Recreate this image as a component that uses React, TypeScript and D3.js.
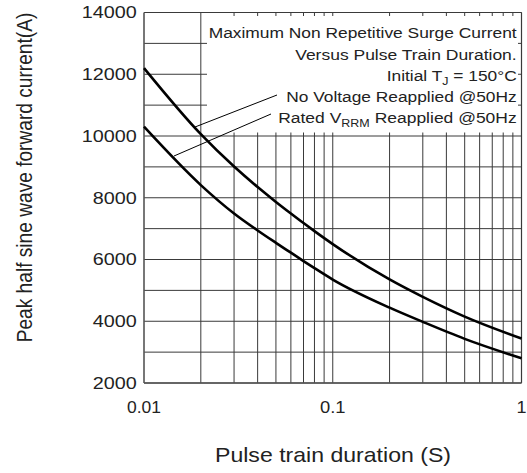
import React from "react";
import * as d3 from "d3";

const durations = [0.01, 0.02, 0.03, 0.04, 0.05, 0.06, 0.07, 0.08, 0.1, 0.2, 0.3, 0.5, 1];
const noVoltage = [12200, 10060, 9010, 8345, 7865, 7490, 7180, 6920, 6500, 5355, 4790, 4150, 3440];
const ratedVrrm = [10300, 8410, 7490, 6940, 6540, 6220, 5950, 5720, 5350, 4440, 3980, 3430, 2800];

const yTickLabels = [2000, 4000, 6000, 8000, 10000, 12000, 14000];
const yGrid = [2000, 3000, 4000, 5000, 6000, 7000, 8000, 9000, 10000, 11000, 12000, 13000, 14000];
const xTickLabels = [0.01, 0.1, 1];
const xGrid = [0.02, 0.03, 0.04, 0.05, 0.06, 0.07, 0.08, 0.09, 0.1, 0.2, 0.3, 0.4, 0.5, 0.6, 0.7, 0.8, 0.9];

const legendLines = [
  "Maximum Non Repetitive Surge Current",
  "Versus Pulse Train Duration.",
];

const W = 527;
const H = 473;
const L = 144;
const R = 521.5;
const T = 12.5;
const B = 383;
const FONT = "'Liberation Sans', Arial, Helvetica, sans-serif";

export default function App() {
  const x = d3.scaleLog().domain([0.01, 1]).range([L, R]);
  const y = d3.scaleLinear().domain([2000, 14000]).range([B, T]);

  const line = d3
    .line<number>()
    .x((_, i) => x(durations[i]))
    .y((d) => y(d))
    .curve(d3.curveMonotoneX);

  const textColor = "#222";
  const gridColor = "#3a3a3a";

  const boxX = 207;
  const boxY = 16;
  const boxR = 518;
  const boxB = 132.5;

  return (
    <svg
      width={W}
      height={H}
      style={{ position: "absolute", left: 0, top: 0, background: "#fff" }}
      fontFamily={FONT}
    >
      <rect x={0} y={0} width={W} height={H} fill="#fff" />
      {/* grid */}
      {yGrid.map((v) => (
        <line key={"hy" + v} x1={L} x2={R} y1={y(v)} y2={y(v)} stroke={gridColor} strokeWidth={1} />
      ))}
      {xGrid.map((v) => (
        <line key={"vx" + v} x1={x(v)} x2={x(v)} y1={T} y2={B} stroke={gridColor} strokeWidth={1} />
      ))}
      {/* frame */}
      <line x1={L} x2={R} y1={T} y2={T} stroke={gridColor} strokeWidth={1.2} />
      <line x1={R} x2={R} y1={T} y2={B} stroke={gridColor} strokeWidth={1.2} />
      <line x1={L} x2={L} y1={T} y2={B} stroke="#555" strokeWidth={1.6} />
      <line x1={L} x2={R} y1={B} y2={B} stroke="#555" strokeWidth={1.6} />

      {/* legend box covering grid */}
      <rect x={boxX} y={boxY} width={boxR - boxX} height={boxB - boxY} fill="#fff" />

      {/* curves */}
      <path d={line(noVoltage) || ""} fill="none" stroke="#000" strokeWidth={2.6} />
      <path d={line(ratedVrrm) || ""} fill="none" stroke="#000" strokeWidth={2.6} />

      {/* leader lines */}
      <line x1={277} y1={95} x2={195} y2={127} stroke="#000" strokeWidth={1} />
      <line x1={271} y1={114} x2={174} y2={156} stroke="#000" strokeWidth={1} />

      {/* legend text */}
      <g fill={textColor} fontSize={15.4} textAnchor="end">
        <text x={516.7} y={38} textLength={308} lengthAdjust="spacingAndGlyphs">
          {legendLines[0]}
        </text>
        <text x={516.7} y={59.5} textLength={221.5} lengthAdjust="spacingAndGlyphs">
          {legendLines[1]}
        </text>
        <text x={516.7} y={80.5} textLength={130} lengthAdjust="spacingAndGlyphs">
          Initial T
          <tspan fontSize={11} dy={4}>J</tspan>
          <tspan dy={-4}> = 150°C</tspan>
        </text>
        <text x={516.7} y={101.5} textLength={230.5} lengthAdjust="spacingAndGlyphs">
          No Voltage Reapplied @50Hz
        </text>
        <text x={516.7} y={122.5} textLength={238.5} lengthAdjust="spacingAndGlyphs">
          Rated V
          <tspan fontSize={11} dy={4}>RRM</tspan>
          <tspan dy={-4}> Reapplied @50Hz</tspan>
        </text>
      </g>

      {/* y tick labels */}
      <g fill={textColor} fontSize={16} textAnchor="end">
        {yTickLabels.map((v) => {
          const s = String(v);
          return (
            <text
              key={"yl" + v}
              x={136.7}
              y={y(v)}
              dy="0.36em"
              textLength={s.length * 11}
              lengthAdjust="spacingAndGlyphs"
            >
              {s}
            </text>
          );
        })}
      </g>

      {/* x tick labels */}
      <g fill={textColor} fontSize={16} textAnchor="middle">
        {xTickLabels.map((v) => {
          const s = String(v);
          return (
            <text
              key={"xl" + v}
              x={x(v)}
              y={413.3}
              textLength={s.length === 1 ? 10 : s.length * 8.5}
              lengthAdjust="spacingAndGlyphs"
            >
              {s}
            </text>
          );
        })}
      </g>

      {/* axis titles */}
      <text
        x={333}
        y={461.7}
        fontSize={21}
        fill={textColor}
        textAnchor="middle"
        textLength={236}
        lengthAdjust="spacingAndGlyphs"
      >
        Pulse train duration (S)
      </text>
      <text
        transform={`translate(32, 177.5) rotate(-90) scale(0.87, 1)`}
        fontSize={22}
        fill={textColor}
        textAnchor="middle"
      >
        Peak half sine wave forward current(A)
      </text>
    </svg>
  );
}
